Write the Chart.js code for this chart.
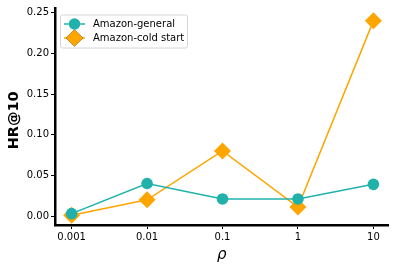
<!DOCTYPE html>
<html>
<head>
<meta charset="utf-8">
<script src="https://cdn.jsdelivr.net/npm/chart.js@4/dist/chart.umd.min.js"></script>
<style>
  html, body { margin: 0; padding: 0; background: #fff; }
  #wrap { width: 397px; height: 270px; }
</style>
</head>
<body>
<div id="wrap"><canvas id="hrChart"></canvas></div>
<script>
// rho values on the x axis (evenly spaced categories)
const rhoLabels = ['0.001', '0.01', '0.1', '1', '10'];
// HR@10
const generalHR = [0.003, 0.040, 0.021, 0.021, 0.039];
const coldStartHR = [0.001, 0.020, 0.080, 0.011, 0.240];
const yTicks = [0.00, 0.05, 0.10, 0.15, 0.20, 0.25];

const FONT = 'DejaVu Sans';

function toPoints(values) {
    return values.map(function(v, i) { return { x: i, y: v }; });
}

// matplotlib-like legend box drawn inside the plot area
const boxLegend = {
    id: 'boxLegend',
    afterDraw: function(chart) {
        const ctx = chart.ctx;
        const area = chart.chartArea;
        const x0 = area.left + 5, y0 = area.top + 6;
        const w = 127, h = 33;
        ctx.save();
        ctx.fillStyle = 'rgba(255,255,255,0.8)';
        ctx.strokeStyle = '#d6d6d6';
        ctx.lineWidth = 1;
        ctx.beginPath();
        ctx.roundRect(x0 + 0.5, y0 + 0.5, w, h, 2);
        ctx.fill();
        ctx.stroke();
        chart.data.datasets.forEach(function(ds, i) {
            const cy = y0 + 9.5 + i * 14;
            ctx.strokeStyle = ds.borderColor;
            ctx.lineWidth = ds.borderWidth;
            ctx.beginPath();
            ctx.moveTo(x0 + 4, cy);
            ctx.lineTo(x0 + 25, cy);
            ctx.stroke();
            Chart.helpers.drawPoint(ctx, {
                pointStyle: ds.pointStyle,
                radius: ds.pointRadius,
                borderWidth: 0
            }, x0 + 14.5, cy);
            ctx.fillStyle = ds.pointBackgroundColor;
            ctx.fill();
            ctx.fillStyle = '#000';
            ctx.font = '10px ' + FONT;
            ctx.textBaseline = 'middle';
            ctx.fillText(ds.label, x0 + 33, cy + 0.5);
        });
        ctx.restore();
    }
};

new Chart(document.getElementById('hrChart'), {
    type: 'line',
    data: {
        datasets: [{
            label: 'Amazon-general',
            data: toPoints(generalHR),
            borderColor: '#20b2aa',
            backgroundColor: '#20b2aa',
            pointBackgroundColor: '#20b2aa',
            pointBorderWidth: 0,
            pointStyle: 'circle',
            pointRadius: 5.8,
            borderWidth: 1.5
        }, {
            label: 'Amazon-cold start',
            data: toPoints(coldStartHR),
            borderColor: '#ffa500',
            backgroundColor: '#ffa500',
            pointBackgroundColor: '#ffa500',
            pointBorderWidth: 0,
            pointStyle: 'rectRot',
            pointRadius: 8.5,
            borderWidth: 1.5
        }]
    },
    options: {
        responsive: true,
        maintainAspectRatio: false,
        animation: false,
        layout: { padding: { left: 0, right: 6, top: 6, bottom: 0 } },
        plugins: {
            legend: { display: false },
            tooltip: { enabled: false }
        },
        scales: {
            x: {
                type: 'linear',
                min: -0.22,
                max: 4.2,
                afterFit: function(scale) { scale.height = 45; },
                afterBuildTicks: function(scale) {
                    scale.ticks = rhoLabels.map(function(_, i) { return { value: i }; });
                },
                ticks: {
                    callback: function(v) { return rhoLabels[v]; },
                    color: '#000',
                    font: { family: FONT, size: 10 },
                    padding: 2,
                    maxRotation: 0
                },
                grid: { drawOnChartArea: false, drawTicks: true, tickLength: 4, color: '#000', lineWidth: 1 },
                border: { display: true, color: '#000', width: 2.5 },
                title: {
                    display: true,
                    text: 'ρ',
                    color: '#000',
                    font: { family: FONT, size: 15, style: 'italic' },
                    padding: { top: 0, bottom: 6 }
                }
            },
            y: {
                min: -0.011,
                max: 0.2552,
                afterFit: function(scale) { scale.width = 55; },
                afterBuildTicks: function(scale) {
                    scale.ticks = yTicks.map(function(v) { return { value: v }; });
                },
                ticks: {
                    callback: function(v) { return v.toFixed(2); },
                    color: '#000',
                    font: { family: FONT, size: 10 },
                    padding: 2
                },
                grid: { drawOnChartArea: false, drawTicks: true, tickLength: 4, color: '#000', lineWidth: 1 },
                border: { display: true, color: '#000', width: 2.5 },
                title: {
                    display: true,
                    text: 'HR@10\u2002',
                    color: '#000',
                    font: { family: FONT, size: 14.5, weight: 'bold' },
                    padding: { top: 6, bottom: 0 }
                }
            }
        }
    },
    plugins: [boxLegend]
});
</script>
</body>
</html>
